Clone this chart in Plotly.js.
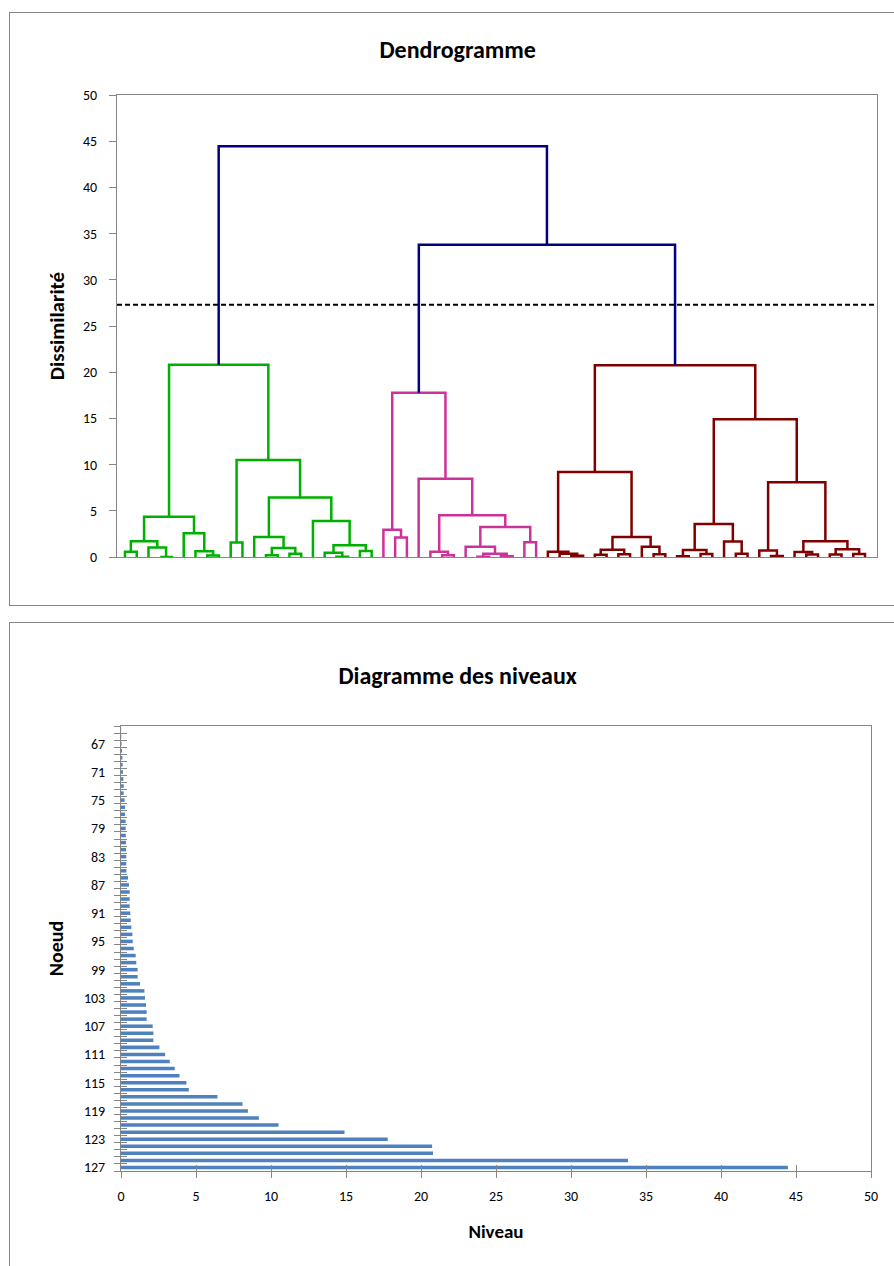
<!DOCTYPE html>
<html>
<head>
<meta charset="utf-8">
<script src="https://cdn.plot.ly/plotly-3.0.1.min.js"></script>
<style>
  html, body { margin: 0; padding: 0; background: #ffffff; width: 894px; height: 1266px; overflow: hidden; }
  .frame { position: absolute; border: 1px solid #868686; background: #fff; }
  #f1 { left: 9px; top: 12px; width: 890px; height: 592px; }
  #f2 { left: 9px; top: 622px; width: 890px; height: 660px; }
  #dendro, #levels { width: 100%; height: 100%; }
</style>
</head>
<body>
<div class="frame" id="f1"><div id="dendro"></div></div>
<div class="frame" id="f2"><div id="levels"></div></div>
<script>
// ---------------- DATA ----------------
// Node numbers (agglomeration steps) and their levels (dissimilarity)
const nodeIds = [65,66,67,68,69,70,71,72,73,74,75,76,77,78,79,80,81,82,83,84,85,86,87,88,89,90,91,92,93,94,95,96,97,98,99,100,101,102,103,104,105,106,107,108,109,110,111,112,113,114,115,116,117,118,119,120,121,122,123,124,125,126,127];
const nodeLevels = [0.01,0.02,0.04,0.07,0.09,0.11,0.13,0.16,0.18,0.18,0.24,0.27,0.27,0.31,0.31,0.32,0.33,0.34,0.35,0.35,0.36,0.47,0.53,0.58,0.58,0.58,0.62,0.65,0.69,0.76,0.78,0.85,0.98,1.02,1.11,1.11,1.27,1.56,1.60,1.67,1.71,1.71,2.11,2.16,2.16,2.56,2.94,3.25,3.58,3.90,4.36,4.52,6.43,8.10,8.46,9.19,10.50,14.90,17.78,20.74,20.80,33.80,44.46];
// Children of each node (ids <= 64 are objects, ids > 64 are nodes)
const leftChild  = [4,19,31,33,48,56,39,8,13,28,41,59,61,43,46,50,63,15,53,67,38,18,58,1,27,37,7,21,55,69,75,77,73,3,30,45,86,10,35,52,87,88,24,95,12,6,23,99,94,17,106,89,109,93,26,90,102,113,111,120,115,123,125];
const rightChild = [5,20,32,34,49,57,40,9,14,29,42,60,62,44,47,51,64,16,54,68,71,66,76,2,74,85,72,22,70,80,78,81,82,65,84,79,92,11,36,83,96,98,25,100,97,91,107,103,104,101,110,112,114,105,116,108,117,118,119,122,121,124,126];
const objectCount = 64;
// Classes (cluster roots) and colours
const classRoots = [125, 123, 124];
const classColors = ['#00b000', '#cc3399', '#800000'];
const topColor = '#000080';
const truncationLevel = 27.3;
// Level diagram tick labels
const levelTickLabels = [67,71,75,79,83,87,91,95,99,103,107,111,115,119,123,127];

// ---------------- DENDROGRAM GEOMETRY ----------------
const rootId = nodeIds[nodeIds.length - 1];
const idx = id => id - nodeIds[0];
const leafPos = {};
let counter = 0;
(function walk(id) {
  if (id <= objectCount) { leafPos[id] = ++counter; return; }
  walk(leftChild[idx(id)]); walk(rightChild[idx(id)]);
})(rootId);

const nodeX = {}, nodeH = {};
function place(id) {
  if (id <= objectCount) return { x: leafPos[id], h: 0 };
  if (nodeX[id] === undefined) {
    const l = place(leftChild[idx(id)]), r = place(rightChild[idx(id)]);
    nodeX[id] = (l.x + r.x) / 2; nodeH[id] = nodeLevels[idx(id)];
  }
  return { x: nodeX[id], h: nodeH[id] };
}
place(rootId);

const nodeColor = {};
(function paint(id, col) {
  if (id <= objectCount) return;
  const ci = classRoots.indexOf(id);
  if (ci >= 0) col = classColors[ci];
  nodeColor[id] = col;
  paint(leftChild[idx(id)], col); paint(rightChild[idx(id)], col);
})(rootId, topColor);

const groups = {};
nodeIds.forEach(id => {
  const l = place(leftChild[idx(id)]), r = place(rightChild[idx(id)]), n = place(id);
  const c = nodeColor[id];
  if (!groups[c]) groups[c] = { x: [], y: [] };
  groups[c].x.push(l.x, l.x, r.x, r.x, null);
  groups[c].y.push(l.h, n.h, n.h, r.h, null);
});
const dendroTraces = Object.keys(groups).map(c => ({
  type: 'scatter', mode: 'lines', x: groups[c].x, y: groups[c].y,
  line: { color: c, width: 2.5 }, hoverinfo: 'skip', showlegend: false
}));

const FONT = 'Carlito, Calibri, Lato, sans-serif';
const AX = '#868686';
const TICKF = 14, TITLEF = 24, AXTF = 21;

Plotly.newPlot('dendro', dendroTraces, {
  width: 890, height: 592,
  margin: { l: 107, r: 23, t: 82, b: 48 },
  paper_bgcolor: '#fff', plot_bgcolor: '#fff',
  font: { family: FONT, size: TICKF, color: '#000' },
  title: { text: '<b>Dendrogramme</b>', font: { family: FONT, size: TITLEF, color: '#000' },
           x: 0.503, xref: 'container', y: 1 - 37/592, yref: 'container', yanchor: 'middle' },
  xaxis: { range: [0.32, 65.02], showticklabels: false, ticks: '', showgrid: false, zeroline: false,
           showline: true, linecolor: AX, linewidth: 1, mirror: true },
  yaxis: { range: [0, 50], tickmode: 'linear', tick0: 0, dtick: 5, ticks: 'outside', ticklen: 7,
           tickcolor: AX, showgrid: false, zeroline: false, showline: true, linecolor: AX, linewidth: 1,
           mirror: true, ticklabelstandoff: 9,
           title: { text: '<b>Dissimilarité</b>', font: { family: FONT, size: AXTF, color: '#000' }, standoff: 12 } },
  shapes: [{ type: 'line', xref: 'paper', x0: 0, x1: 1, yref: 'y', y0: truncationLevel, y1: truncationLevel,
             line: { color: '#000', width: 1.8, dash: '5px,3px' } }]
}, { displayModeBar: false, staticPlot: true });

// ---------------- LEVEL DIAGRAM ----------------
const barTrace = {
  type: 'bar', orientation: 'h', x: nodeLevels, y: nodeIds, width: 0.5,
  marker: { color: '#4f81bd', line: { width: 0 } }, hoverinfo: 'skip', showlegend: false,
  xaxis: 'x', yaxis: 'y'
};
const ghost = { type: 'scatter', x: [], y: [], xaxis: 'x2', yaxis: 'y2', showlegend: false, hoverinfo: 'skip' };
const yRange = [nodeIds[nodeIds.length - 1] + 0.5, nodeIds[0] - 0.5];

Plotly.newPlot('levels', [barTrace, ghost], {
  width: 890, height: 660,
  margin: { l: 111, r: 29, t: 103, b: 112 },
  paper_bgcolor: '#fff', plot_bgcolor: '#fff',
  font: { family: FONT, size: TICKF, color: '#000' },
  title: { text: '<b>Diagramme des niveaux</b>', font: { family: FONT, size: TITLEF, color: '#000' },
           x: 0.503, xref: 'container', y: 1 - 53/660, yref: 'container', yanchor: 'middle' },
  xaxis: { range: [0, 50], tickmode: 'linear', tick0: 0, dtick: 5, ticks: 'outside', ticklen: 6,
           tickcolor: AX, showgrid: false, zeroline: false, showline: true, linecolor: AX, linewidth: 1,
           mirror: true, ticklabelstandoff: 6,
           title: { text: '<b>Niveau</b>', font: { family: FONT, size: AXTF - 2, color: '#000' }, standoff: 20 } },
  yaxis: { range: yRange, tickmode: 'array', tickvals: levelTickLabels, ticktext: levelTickLabels.map(String),
           ticks: '', showgrid: false, zeroline: false, showline: true, linecolor: AX, linewidth: 1,
           mirror: true, ticklabelstandoff: 12,
           minor: { tickmode: 'linear', tick0: 64.5, dtick: 1, ticks: 'outside', ticklen: 6, tickcolor: AX, tickwidth: 1, showgrid: false },
           title: { text: '<b>Noeud</b>', font: { family: FONT, size: AXTF - 1, color: '#000' }, standoff: 14 } },
  xaxis2: { overlaying: 'x', range: [0, 50], tickmode: 'linear', tick0: 0, dtick: 5, ticks: 'inside', ticklen: 6,
            tickcolor: AX, showticklabels: false, showgrid: false, zeroline: false, showline: false },
  yaxis2: { overlaying: 'y', range: yRange, tickmode: 'linear', tick0: 64.5, dtick: 1, ticks: 'inside', ticklen: 6,
            tickcolor: AX, showticklabels: false, showgrid: false, zeroline: false, showline: false }
}, { displayModeBar: false, staticPlot: true });
</script>
</body>
</html>
